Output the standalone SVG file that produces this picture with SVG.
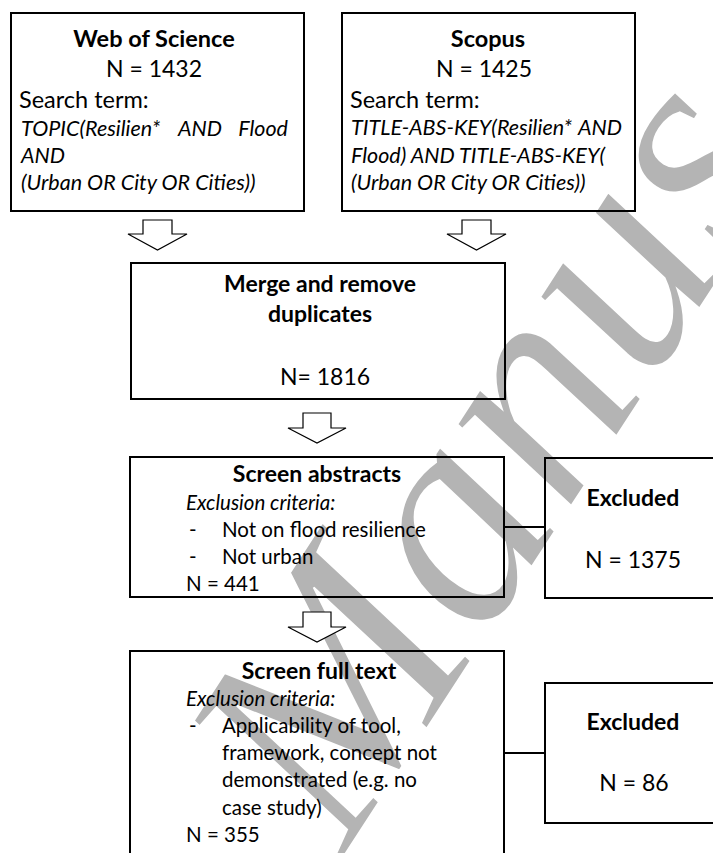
<svg xmlns="http://www.w3.org/2000/svg" width="713" height="853" viewBox="0 0 713 853">
<style>
.bg{fill:#fff}
.wm{font-family:"Liberation Serif","Times New Roman",serif;font-style:italic;font-size:305px;fill:#b4b4b4;stroke:#fff;stroke-width:2}
.box{fill:none;stroke:#000;stroke-width:2}
.arr{fill:#fff;stroke:#000;stroke-width:1.2;stroke-linejoin:miter}
.con{stroke:#000;stroke-width:2;fill:none}
text{font-family:Lato,"Open Sans","Liberation Sans",sans-serif;fill:#000}
.h{font-weight:bold;font-size:23px;text-anchor:middle}
.n{font-size:23px}
.c{text-anchor:middle}
.it{font-style:italic;font-size:21.5px}
.s{font-size:20.5px}
</style>
<rect class="bg" x="0" y="0" width="713" height="853"/>
<g id="watermark">
<text class="wm" transform="translate(344,856) rotate(-57)">Manuscript</text>
</g>
<g id="connectors">
<polygon class="arr" points="143,220 172,220 172,234 187,234 157.5,250 128,234 143,234"/>
<polygon class="arr" points="462,220 491,220 491,234 506,234 476.5,250 447,234 462,234"/>
<polygon class="arr" points="303,413 331,413 331,428 346,428 317,443 288,428 303,428"/>
<polygon class="arr" points="303,612 331,612 331,627 346,627 317,642 288,627 303,627"/>
<line class="con" x1="504" y1="527" x2="545" y2="527"/>
<line class="con" x1="504" y1="753" x2="545" y2="753"/>
</g>
<g id="wos">
<rect class="box" x="11" y="13" width="293" height="198"/>
<text class="h" x="154" y="47" style="font-size:23.5px">Web of Science</text>
<text class="n c" x="154" y="77">N = 1432</text>
<text class="n" x="19" y="108" style="font-size:23.5px">Search term:</text>
<text class="it" x="21" y="136">TOPIC(Resilien*</text>
<text class="it" x="178" y="136">AND</text>
<text class="it" x="288" y="136" text-anchor="end">Flood</text>
<text class="it" x="21" y="163">AND</text>
<text class="it" x="21" y="190">(Urban OR City OR Cities))</text>
</g>
<g id="scopus">
<rect class="box" x="342" y="13" width="293" height="198"/>
<text class="h" x="488" y="47" style="font-size:23.5px">Scopus</text>
<text class="n c" x="484" y="77">N = 1425</text>
<text class="n" x="350" y="108" style="font-size:23.5px">Search term:</text>
<text class="it" x="351" y="135">TITLE-ABS-KEY(Resilien*</text>
<text class="it" x="622" y="135" text-anchor="end">AND</text>
<text class="it" x="351" y="163">Flood) AND TITLE-ABS-KEY(</text>
<text class="it" x="351" y="190">(Urban OR City OR Cities))</text>
</g>
<g id="merge">
<rect class="box" x="131" y="263" width="374" height="136"/>
<text class="h" x="320" y="292">Merge and remove</text>
<text class="h" x="320" y="322">duplicates</text>
<text class="n c" x="325" y="385">N= 1816</text>
</g>
<g id="screen-abstracts">
<rect class="box" x="130" y="457" width="374" height="140"/>
<text class="h" x="317" y="482">Screen abstracts</text>
<text class="it" x="186" y="510" style="font-size:20.5px">Exclusion criteria:</text>
<text class="s" x="189" y="537">-</text>
<text class="s" x="222" y="537">Not on flood resilience</text>
<text class="s" x="189" y="564">-</text>
<text class="s" x="222" y="564">Not urban</text>
<text class="s" x="186" y="591">N = 441</text>
</g>
<g id="excluded-1">
<rect class="box" x="545" y="458" width="180" height="140"/>
<text class="h" x="633" y="506">Excluded</text>
<text class="n c" x="633" y="568">N = 1375</text>
</g>
<g id="screen-full-text">
<rect class="box" x="130" y="651" width="374" height="230"/>
<text class="h" x="319" y="679">Screen full text</text>
<text class="it" x="186" y="706" style="font-size:20.5px">Exclusion criteria:</text>
<text class="s" x="189" y="733">-</text>
<text class="s" x="222" y="733">Applicability of tool,</text>
<text class="s" x="222" y="760">framework, concept not</text>
<text class="s" x="222" y="787">demonstrated (e.g. no</text>
<text class="s" x="222" y="815">case study)</text>
<text class="s" x="186" y="842">N = 355</text>
</g>
<g id="excluded-2">
<rect class="box" x="545" y="683" width="180" height="140"/>
<text class="h" x="633" y="730">Excluded</text>
<text class="n c" x="634" y="791">N = 86</text>
</g>
</svg>
